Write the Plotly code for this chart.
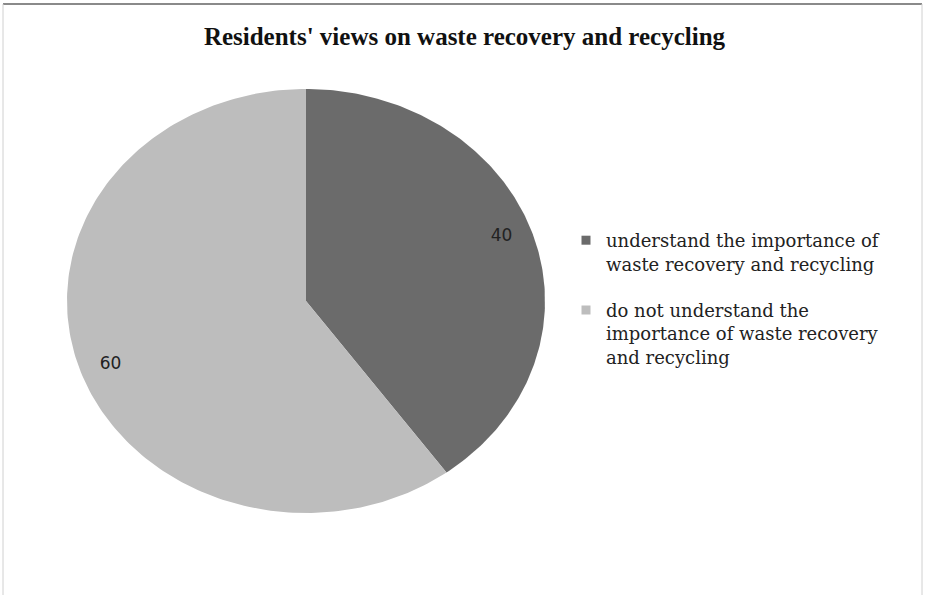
import numpy as np
import plotly.graph_objects as go

# Chart data
title_text = "Residents' views on waste recovery and recycling"
categories = [
    "understand the importance of<br>waste recovery and recycling",
    "do not understand the<br>importance of waste recovery<br>and recycling",
]
values = [40, 60]
colors = ["#6b6b6b", "#bdbdbd"]

W, H = 929, 595

fig = go.Figure()

# Slices drawn clockwise from 12 o'clock in unit-circle data space;
# the axes domains stretch the circle into the oval pie.
total = float(sum(values))
start = 0.0
for i, (name, v, c) in enumerate(zip(categories, values, colors)):
    span = 360.0 * v / total
    th = np.radians(np.linspace(start, start + span, 200))
    xs = np.concatenate([[0.0], np.sin(th), [0.0]])
    ys = np.concatenate([[0.0], np.cos(th), [0.0]])
    fig.add_trace(go.Scatter(
        x=xs, y=ys, mode="lines", fill="toself", fillcolor=c,
        line=dict(width=0, color=c), hoverinfo="skip", showlegend=False,
    ))
    start += span

# Legend entries (square swatches)
for i, (name, c) in enumerate(zip(categories, colors)):
    fig.add_trace(go.Scatter(
        x=[None], y=[None], mode="markers", name=name,
        legendgroup=f"g{i}",
        marker=dict(symbol="square", size=9, color=c),
    ))

# Value labels placed along each slice's mid angle
start = 0.0
lx, ly, lt = [], [], []
for v in values:
    span = 360.0 * v / total
    mid = np.radians(start + span / 2)
    lx.append(0.86 * np.sin(mid))
    ly.append(0.98 * np.cos(mid))
    lt.append(str(v))
    start += span
fig.add_trace(go.Scatter(
    x=lx, y=ly, mode="text", text=lt, showlegend=False, hoverinfo="skip",
    textfont=dict(family="DejaVu Sans", size=17, color="#222222"),
))

fig.update_layout(
    width=W, height=H,
    margin=dict(l=0, r=0, t=0, b=0),
    paper_bgcolor="white", plot_bgcolor="white",
    title=dict(
        text=f"<b>{title_text}</b>",
        x=0.5, xanchor="center", y=1 - 36 / H, yanchor="middle",
        font=dict(family="Liberation Serif", size=25, color="#111111"),
    ),
    xaxis=dict(domain=[67 / W, 545 / W], range=[-1, 1], visible=False),
    yaxis=dict(domain=[1 - 513 / H, 1 - 89 / H], range=[-1, 1], visible=False),
    legend=dict(
        x=566 / W, xanchor="left", y=1 - 222 / H, yanchor="top",
        font=dict(family="DejaVu Serif", size=18, color="#222222"),
        traceorder="grouped", tracegroupgap=20, valign="top",
        itemwidth=30, bgcolor="rgba(0,0,0,0)",
    ),
    shapes=[
        dict(type="line", xref="paper", yref="paper",
             x0=3 / W, x1=922 / W, y0=1 - 4 / H, y1=1 - 4 / H,
             line=dict(color="#8a8a8a", width=2)),
        dict(type="line", xref="paper", yref="paper",
             x0=3 / W, x1=3 / W, y0=1 - 4 / H, y1=0,
             line=dict(color="#d0d0d0", width=1)),
        dict(type="line", xref="paper", yref="paper",
             x0=922 / W, x1=922 / W, y0=1 - 4 / H, y1=0,
             line=dict(color="#d0d0d0", width=1)),
    ],
)

fig.write_html("out.html")
